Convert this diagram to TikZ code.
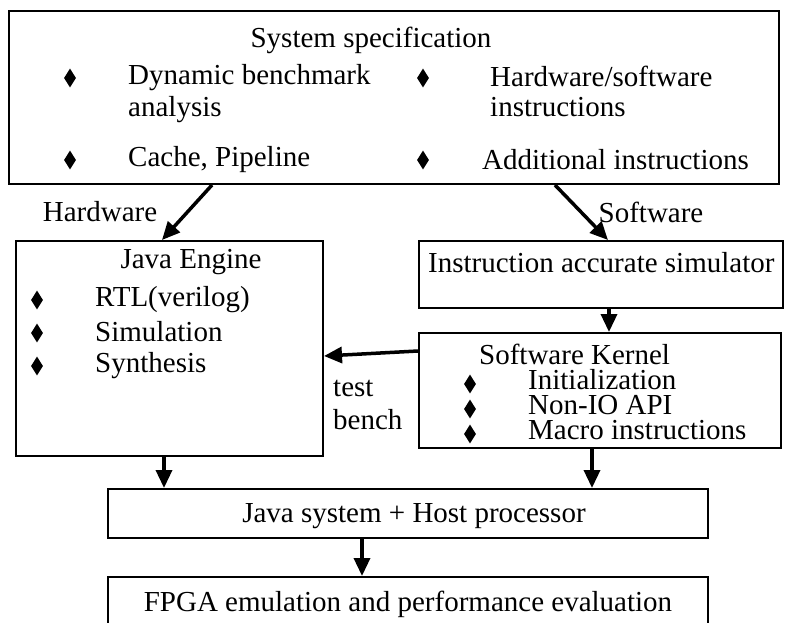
\documentclass[tikz,border=0pt]{standalone}
\usepackage{fontspec}
\setmainfont{Liberation Serif}
\usetikzlibrary{arrows.meta,shapes.geometric}
\begin{document}
\begin{tikzpicture}[x=1pt,y=-1pt,
  every node/.style={font=\fontsize{29}{32}\selectfont, inner sep=0pt},
  box/.style={draw, line width=2pt, anchor=north west, inner sep=0pt},
  lbl/.style={anchor=west},
  tight/.style={anchor=west, text height=19pt, text depth=5pt},
  bul/.style={diamond, fill=black, minimum width=12pt, minimum height=19pt, inner sep=0pt},
  arr/.style={line width=3.5pt, -{Triangle[length=18pt,width=16pt]}}]
\useasboundingbox (0,0) rectangle (785,622);
% boxes
\node[box, minimum width=770pt, minimum height=173pt] (top) at (8,10) {};
\node[box, minimum width=307pt, minimum height=215pt] (je) at (15,240) {};
\node[box, minimum width=364pt, minimum height=67pt] (ias) at (418,240) {};
\node[box, minimum width=362pt, minimum height=115pt] (sk) at (418,332) {};
\node[box, minimum width=600pt, minimum height=49pt] (js) at (107,488) {};
\node[box, minimum width=600pt, minimum height=70pt] (fp) at (107,576) {};
% top box texts
\node (t0) at (371,40) {System specification};
\node[bul] (b1) at (70,78) {};
\node[lbl] (t1) at (128,78) {Dynamic benchmark};
\node[lbl] (t2) at (128,110) {analysis};
\node[bul] (b2) at (70,160) {};
\node[lbl] (t3) at (128,160) {Cache, Pipeline};
\node[bul] (b3) at (423,78) {};
\node[lbl] (t4) at (490,76) {Hardware/software};
\node[lbl] (t5) at (490,107) {instructions};
\node[bul] (b4) at (423,160) {};
\node[lbl] (t6) at (482,160) {Additional instructions};
% branch labels
\node (hw) at (100,212) {Hardware};
\node (sw) at (651,212) {Software};
% Java Engine
\node (je0) at (191,262) {Java Engine};
\node[bul] (b5) at (37,300) {};
\node[lbl] (je1) at (95,300) {RTL(verilog)};
\node[bul] (b6) at (37,333) {};
\node[lbl] (je2) at (95,332) {Simulation};
\node[bul] (b7) at (37,366) {};
\node[lbl] (je3) at (95,366) {Synthesis};
% Instruction accurate simulator
\node[lbl] (ias0) at (428,263) {Instruction accurate simulator};
% Software kernel
\node[tight] (sk0) at (479,357) {Software Kernel};
\node[bul] (b8) at (470,384) {};
\node[tight] (sk1) at (528,382) {Initialization};
\node[bul] (b9) at (470,409) {};
\node[tight] (sk2) at (528,407) {Non-IO API};
\node[bul] (b10) at (470,434) {};
\node[tight] (sk3) at (528,432) {Macro instructions};
% test bench
\node[lbl] (tb1) at (333,388) {test};
\node[lbl] (tb2) at (333,420) {bench};
% bottom texts
\node (js0) at (414,516) {Java system + Host processor};
\node (fp0) at (408,604) {FPGA emulation and performance evaluation};
% arrows
\draw[arr] ([xshift=204pt]top.south west) -- ([xshift=147pt]je.north west);
\draw[arr] ([xshift=547pt]top.south west) -- ([xshift=190pt]ias.north west);
\draw[arr] ([xshift=191pt]ias.south west) -- ([xshift=191pt]sk.north west);
\draw[arr] ([yshift=-19pt]sk.north west) -- ([yshift=-116pt]je.north east);
\draw[arr] ([xshift=149pt]je.south west) -- ([xshift=57pt]js.north west);
\draw[arr] ([xshift=174pt]sk.south west) -- ([xshift=485pt]js.north west);
\draw[arr] ([xshift=255pt]js.south west) -- ([xshift=255pt]fp.north west);
\end{tikzpicture}
\end{document}
